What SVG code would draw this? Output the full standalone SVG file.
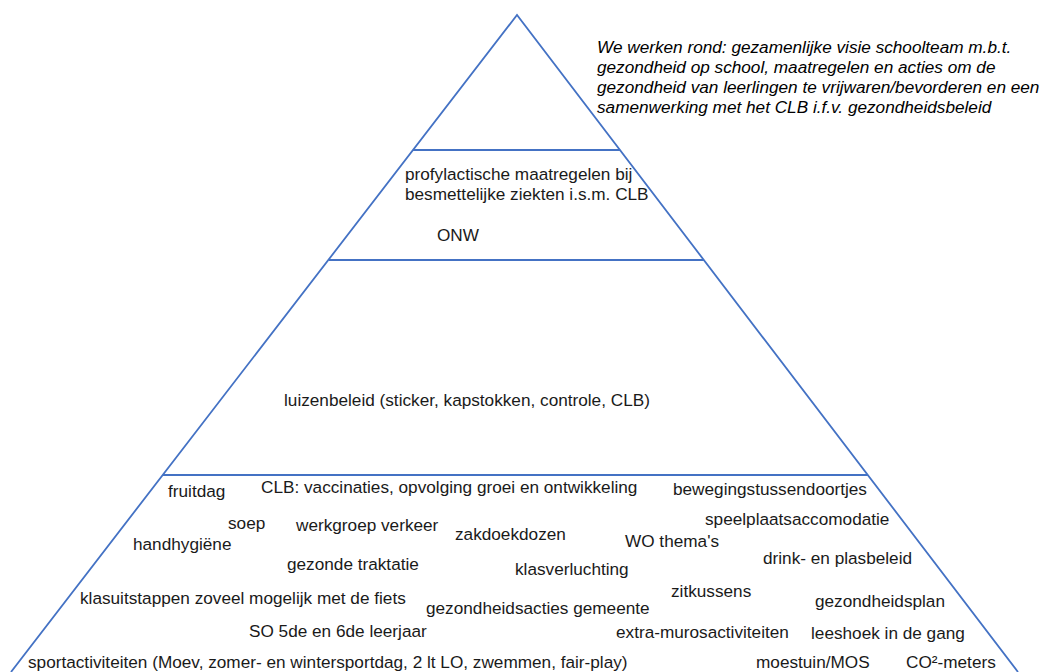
<svg xmlns="http://www.w3.org/2000/svg" width="1047" height="672" viewBox="0 0 1047 672">
<style>
.ln{stroke:#4472C4;stroke-width:1.8;fill:none}
text{font-family:"Liberation Sans",Arial,sans-serif;font-size:17.2px;fill:#1a1a1a}
.it{font-style:italic;fill:#000}
</style>
<rect width="1047" height="672" fill="#fff"/>
<g id="pyramid">
<polyline class="ln" points="11,672 517,15 1018,672"/>
<line class="ln" x1="413" y1="150" x2="620" y2="150"/>
<line class="ln" x1="329" y1="260" x2="704" y2="260"/>
<line class="ln" x1="163" y1="475" x2="868" y2="475"/>
</g>
<g id="intro">
<text class="it" x="597" y="53">We werken rond: gezamenlijke visie schoolteam m.b.t.</text>
<text class="it" x="597" y="73">gezondheid op school, maatregelen en acties om de</text>
<text class="it" x="597" y="93">gezondheid van leerlingen te vrijwaren/bevorderen en een</text>
<text class="it" x="597" y="113">samenwerking met het CLB i.f.v. gezondheidsbeleid</text>
</g>
<g id="level2">
<text x="405" y="180">profylactische maatregelen bij</text>
<text x="405" y="200">besmettelijke ziekten i.s.m. CLB</text>
<text x="437" y="241">ONW</text>
</g>
<g id="level3">
<text x="284" y="406">luizenbeleid (sticker, kapstokken, controle, CLB)</text>
</g>
<g id="level4">
<text x="168" y="497">fruitdag</text>
<text x="261" y="493">CLB: vaccinaties, opvolging groei en ontwikkeling</text>
<text x="673" y="495">bewegingstussendoortjes</text>
<text x="228" y="529">soep</text>
<text x="296" y="531">werkgroep verkeer</text>
<text x="455" y="540">zakdoekdozen</text>
<text x="705" y="525">speelplaatsaccomodatie</text>
<text x="133" y="550">handhygiëne</text>
<text x="625" y="547">WO thema's</text>
<text x="287" y="570">gezonde traktatie</text>
<text x="763" y="564">drink- en plasbeleid</text>
<text x="515" y="575">klasverluchting</text>
<text x="80" y="604">klasuitstappen zoveel mogelijk met de fiets</text>
<text x="671" y="597">zitkussens</text>
<text x="815" y="607">gezondheidsplan</text>
<text x="426" y="614">gezondheidsacties gemeente</text>
<text x="249" y="637">SO 5de en 6de leerjaar</text>
<text x="616" y="638">extra-murosactiviteiten</text>
<text x="811" y="639">leeshoek in de gang</text>
<text x="28" y="668">sportactiviteiten (Moev, zomer- en wintersportdag, 2 lt LO, zwemmen, fair-play)</text>
<text x="756" y="668">moestuin/MOS</text>
<text x="906" y="668">CO²-meters</text>
</g>
</svg>
